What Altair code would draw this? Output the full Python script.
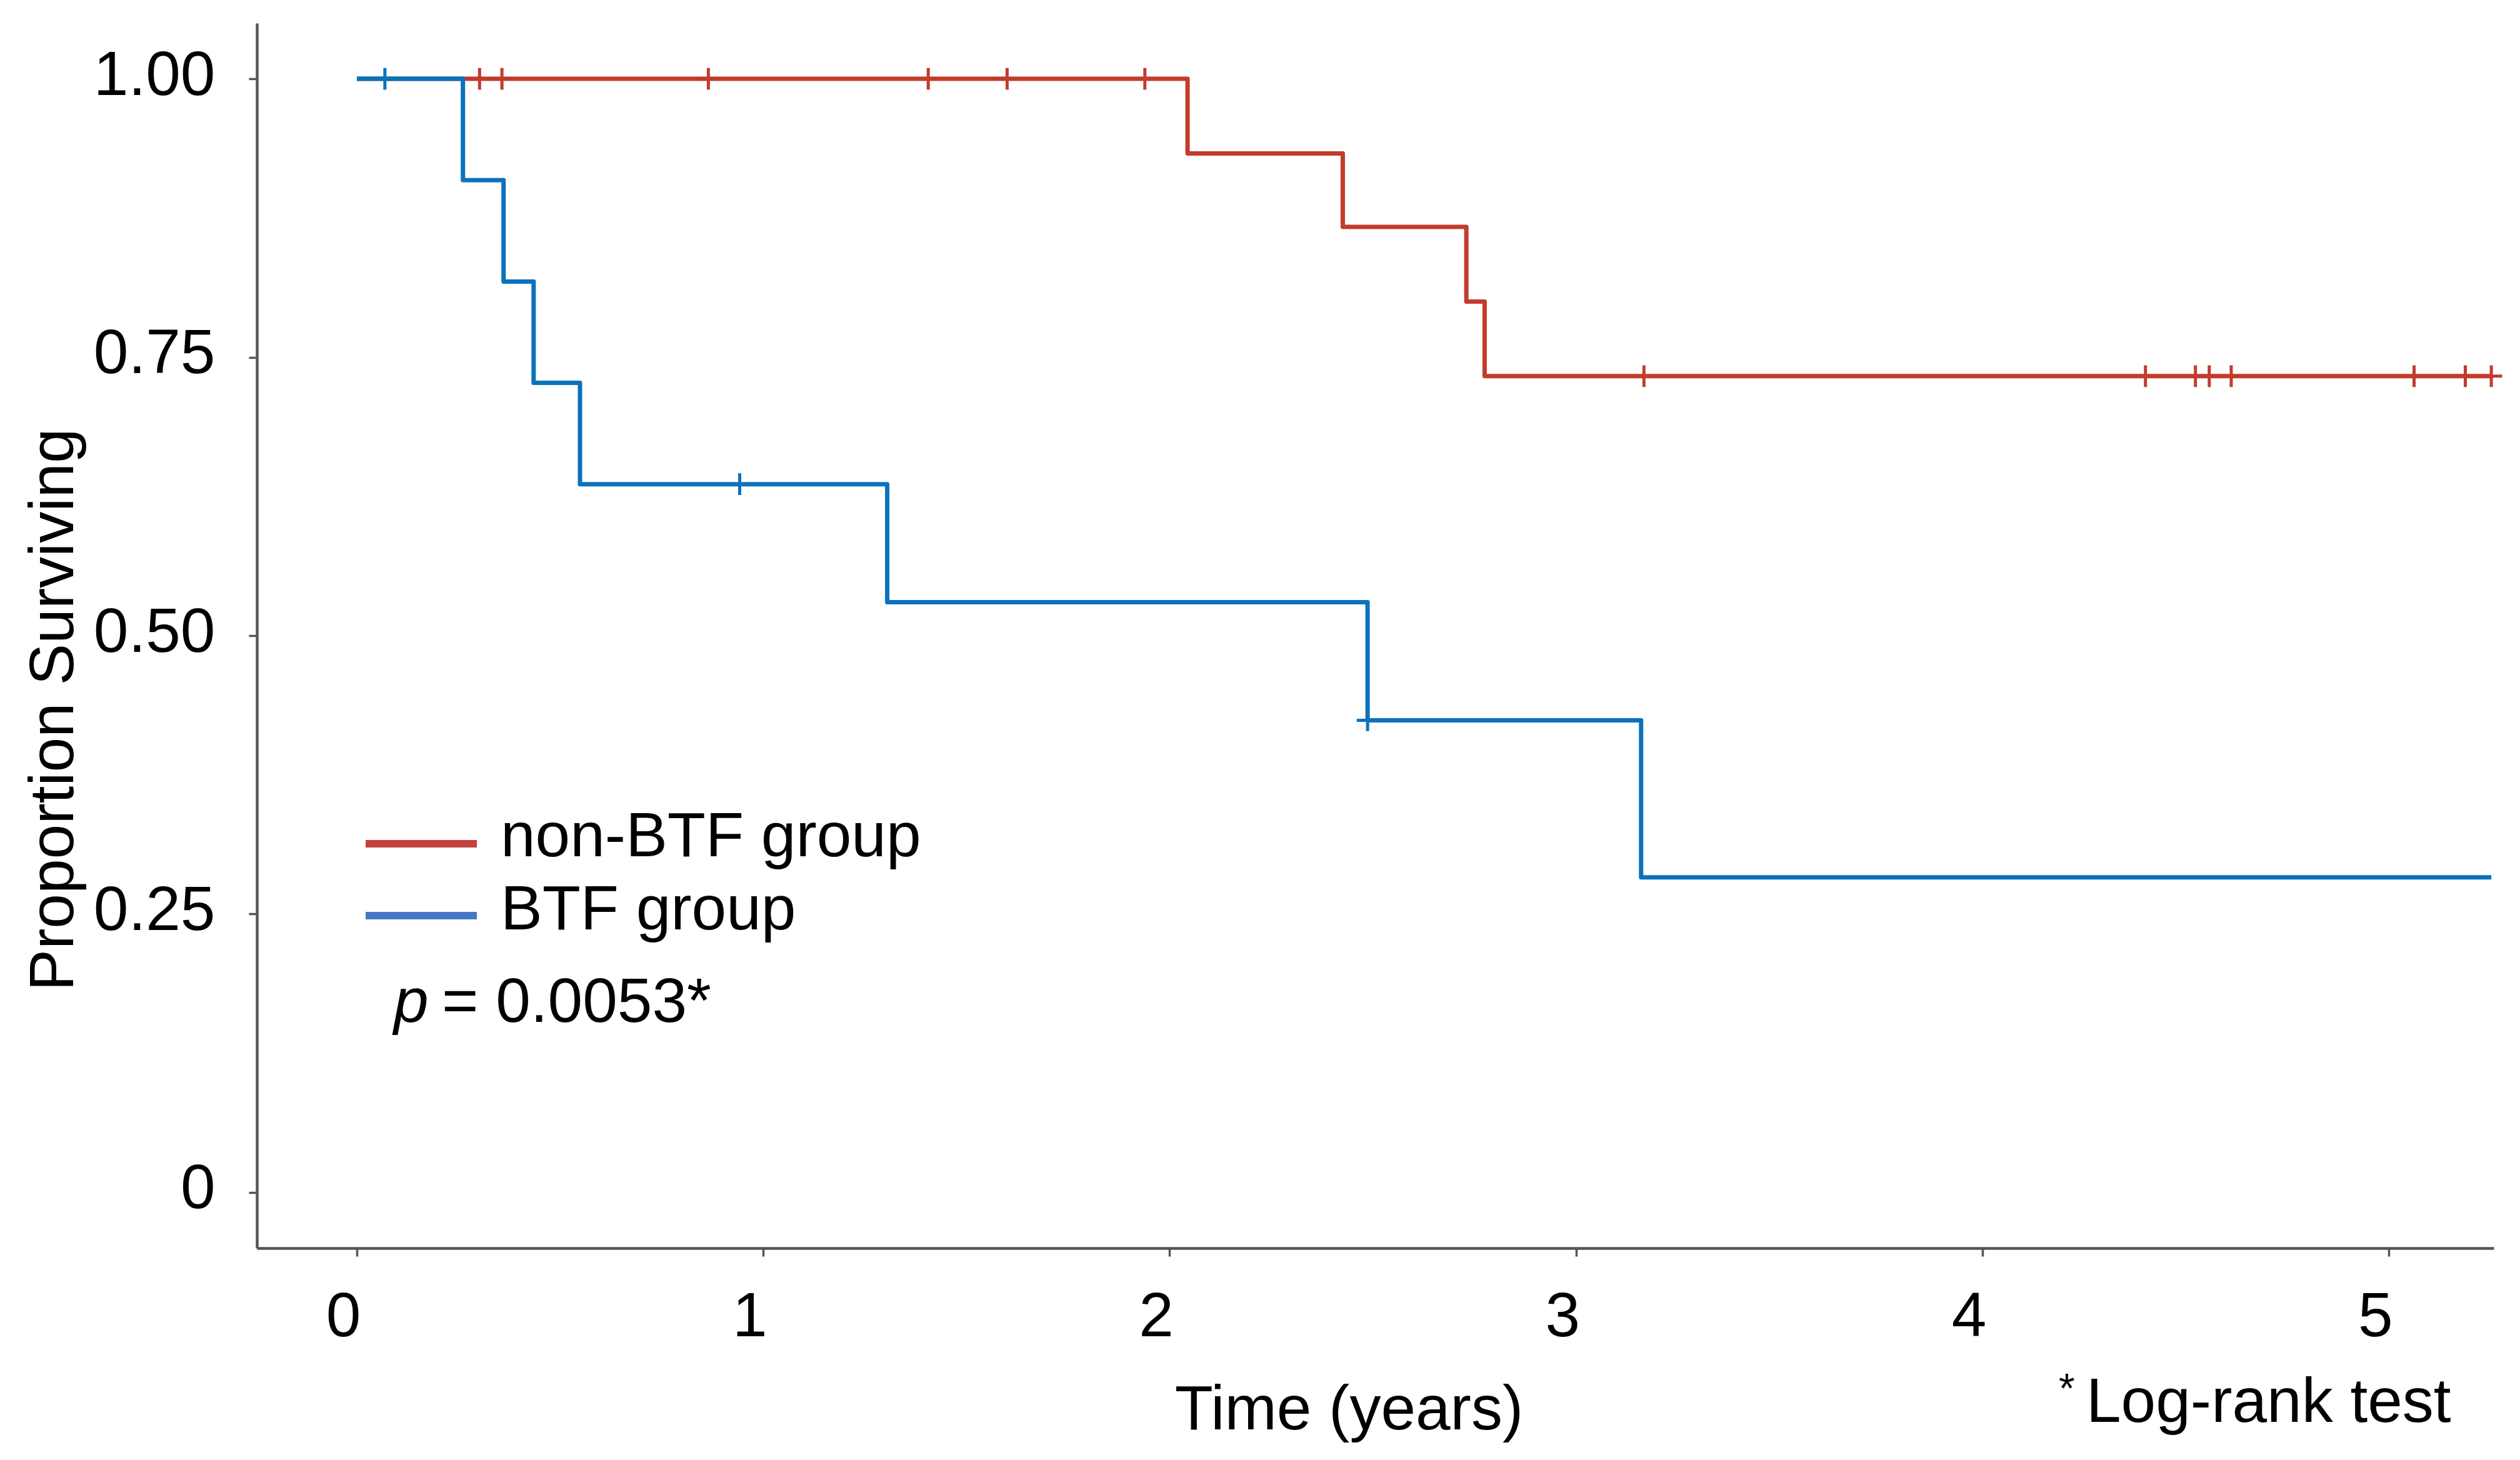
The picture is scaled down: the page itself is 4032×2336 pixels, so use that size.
import altair as alt
import pandas as pd

# ---------------- data ----------------
groups = ["non-BTF group", "BTF group"]
curve_colors = ["#C33B2C", "#0B72BC"]
legend_colors = ["#C24040", "#4677C4"]

# Kaplan-Meier step points (time in years, proportion surviving)
nonbtf_times = [0.0, 2.044, 2.426, 2.730, 2.775, 5.252]
nonbtf_surv = [1.000, 0.933, 0.867, 0.800, 0.733, 0.733]
btf_times = [0.0, 0.261, 0.361, 0.435, 0.549, 1.305, 2.487, 3.160, 5.252]
btf_surv = [1.000, 0.909, 0.818, 0.727, 0.636, 0.530, 0.424, 0.283, 0.283]

# censoring marks (time in years)
nonbtf_censor = [0.302, 0.357, 0.865, 1.406, 1.600, 1.939, 3.167,
                 4.401, 4.524, 4.558, 4.612, 5.062, 5.188, 5.252]
btf_censor = [0.069, 0.942, 2.487]

x_ticks = [0, 1, 2, 3, 4, 5]
y_ticks = [0, 0.25, 0.5, 0.75, 1.0]

p_label = "p"
p_value_text = "= 0.0053*"
footnote_star = "*"
footnote_text = "Log-rank test"

FONT = "Liberation Sans"
FS = 100


def curve_frame(name, times, surv):
    return pd.DataFrame({"group": name, "time": times, "surv": surv})


def surv_at(t, times, surv):
    val = surv[0]
    for ti, si in zip(times, surv):
        if t >= ti - 1e-9:
            val = si
    return val


def censor_frame(name, cens, times, surv):
    return pd.DataFrame({"group": name, "time": cens,
                         "surv": [surv_at(c, times, surv) for c in cens]})


red_curve = curve_frame(groups[0], nonbtf_times, nonbtf_surv)
blue_curve = curve_frame(groups[1], btf_times, btf_surv)
censors = pd.concat([
    censor_frame(groups[0], nonbtf_censor, nonbtf_times, nonbtf_surv),
    censor_frame(groups[1], btf_censor, btf_times, btf_surv),
])

x_scale = alt.Scale(domain=[-0.246, 5.258], nice=False, zero=False)
y_scale = alt.Scale(domain=[-0.05, 1.05], nice=False, zero=False)
color_scale = alt.Scale(domain=groups, range=curve_colors)

x_axis = alt.Axis(values=x_ticks, format="d", title="Time (years)",
                  grid=False, tickSize=13, labelPadding=48, labelOffset=-22,
                  labelLimit=0,
                  titleX=1747, titleY=289, titleAlign="center",
                  titleBaseline="alphabetic")
y_axis = alt.Axis(values=y_ticks,
                  labelExpr="datum.value == 0 ? '0' : format(datum.value, '.2f')",
                  title="Proportion Surviving", grid=False, tickSize=13,
                  labelPadding=54, labelOffset=-5, labelBaseline="middle",
                  labelLimit=0,
                  titleX=-295, titleY=1098, titleAngle=270,
                  titleAlign="center", titleBaseline="alphabetic")

x_enc = alt.X("time:Q", scale=x_scale, axis=x_axis)
y_enc = alt.Y("surv:Q", scale=y_scale, axis=y_axis)
c_enc = alt.Color("group:N", scale=color_scale, legend=None)

line_red = alt.Chart(red_curve).mark_line(
    interpolate="step-after", strokeWidth=7, strokeJoin="round"
).encode(x=x_enc, y=y_enc, color=c_enc)

line_blue = alt.Chart(blue_curve).mark_line(
    interpolate="step-after", strokeWidth=7, strokeJoin="round"
).encode(x="time:Q", y="surv:Q", color=c_enc)

cens = alt.Chart(censors).mark_point(
    shape="M-1,0H1M0,-1V1", filled=False, size=1200, strokeWidth=5, opacity=1
).encode(x="time:Q", y="surv:Q", color=c_enc)

one = pd.DataFrame({"k": [0]})


def txt(text, x, y, size=FS, style="normal", align="left"):
    return alt.Chart(one).mark_text(
        font=FONT, fontSize=size, fontStyle=style, align=align,
        baseline="alphabetic", color="black"
    ).encode(x=alt.value(x), y=alt.value(y), text=alt.value(text))


def leg_line(color, y):
    return alt.Chart(one).mark_rule(strokeWidth=12, color=color).encode(
        x=alt.value(174), x2=alt.value(352), y=alt.value(y))


layers = [
    line_red, line_blue, cens,
    leg_line(legend_colors[0], 1313),
    leg_line(legend_colors[1], 1428),
    txt(groups[0], 390, 1333),
    txt(groups[1], 390, 1450),
    txt(p_label, 219, 1598, style="italic"),
    txt(p_value_text, 296, 1598),
    txt(footnote_star, 2883, 2207, size=66),
    txt(footnote_text, 2927, 2238),
]

chart = alt.layer(*layers).properties(
    width=3579, height=1960,
    autosize=alt.AutoSizeParams(type="none"),
    padding={"left": 403, "top": 29, "right": 30, "bottom": 320},
).configure_view(stroke=None).configure_axis(
    domainColor="#555555", domainWidth=4.5, tickColor="#555555", tickWidth=3.5,
    labelFont=FONT, titleFont=FONT, labelFontSize=FS, titleFontSize=FS,
    labelColor="black", titleColor="black", titleFontWeight="normal",
)

chart.save("out.html", embed_options={"renderer": "svg", "actions": False})
